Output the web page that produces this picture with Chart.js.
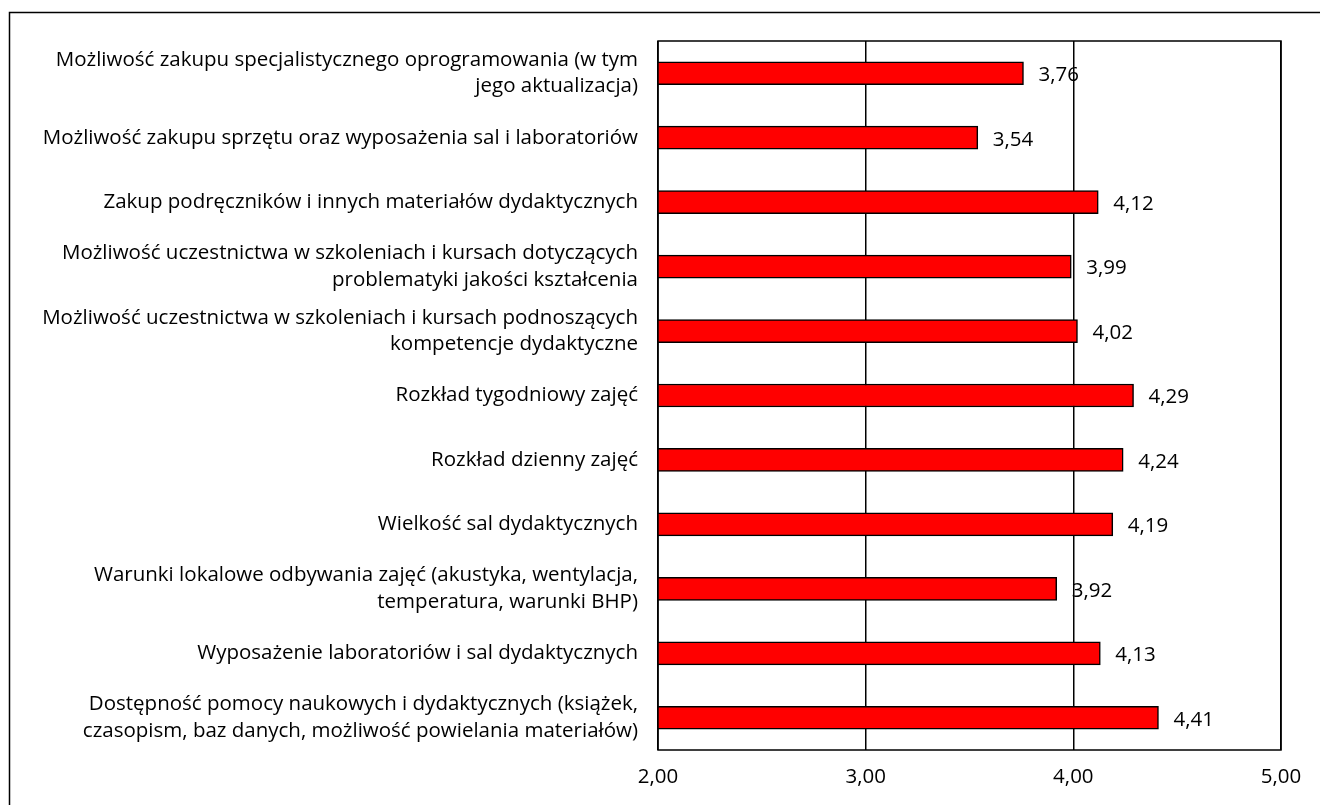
<!DOCTYPE html>
<html>
<head>
<meta charset="utf-8">
<script src="https://cdn.jsdelivr.net/npm/chart.js@4.4.1/dist/chart.umd.min.js"></script>
<style>
    html, body { margin: 0; padding: 0; background: #fff; overflow: hidden; }
    #wrap { position: relative; width: 1320px; height: 805px; }
</style>
</head>
<body>
<div id="wrap"><canvas id="chart" width="1320" height="805"></canvas></div>
<script>
const categories = [
    ['Możliwość zakupu specjalistycznego oprogramowania (w tym', 'jego aktualizacja)'],
    'Możliwość zakupu sprzętu oraz wyposażenia sal i laboratoriów',
    'Zakup podręczników i innych materiałów dydaktycznych',
    ['Możliwość uczestnictwa w szkoleniach i kursach dotyczących', 'problematyki jakości kształcenia'],
    ['Możliwość uczestnictwa w szkoleniach i kursach podnoszących', 'kompetencje dydaktyczne'],
    'Rozkład tygodniowy zajęć',
    'Rozkład dzienny zajęć',
    'Wielkość sal dydaktycznych',
    ['Warunki lokalowe odbywania zajęć (akustyka, wentylacja,', 'temperatura, warunki BHP)'],
    'Wyposażenie laboratoriów i sal dydaktycznych',
    ['Dostępność pomocy naukowych i dydaktycznych (książek,', 'czasopism, baz danych, możliwość powielania materiałów)']
];
const values = [3.76, 3.54, 4.12, 3.99, 4.02, 4.29, 4.24, 4.19, 3.92, 4.13, 4.41];
const axisMin = 2;
const axisMax = 5;
const tickStep = 1;

const FONT = '"Open Sans", Lato, sans-serif';
const SIZE = 20.5;
const fmt = v => v.toFixed(2).replace('.', ',');

const frame = {
    id: 'frame',
    beforeDraw(chart) {
        const ctx = chart.ctx;
        ctx.save();
        ctx.fillStyle = '#fff';
        ctx.fillRect(0, 0, chart.width, chart.height);
        ctx.strokeStyle = '#000';
        ctx.lineWidth = 1.5;
        ctx.strokeRect(9.5, 12.5, 1400, 900);
        ctx.restore();
    },
    afterDraw(chart) {
        const { ctx, chartArea: a } = chart;
        ctx.save();
        ctx.strokeStyle = '#000';
        ctx.lineWidth = 1.5;
        ctx.strokeRect(a.left, a.top, a.right - a.left, a.bottom - a.top);
        ctx.restore();
    }
};

const valueLabels = {
    id: 'valueLabels',
    afterDatasetsDraw(chart) {
        const ctx = chart.ctx;
        const meta = chart.getDatasetMeta(0);
        ctx.save();
        ctx.font = SIZE + 'px ' + FONT;
        ctx.fillStyle = '#000';
        ctx.textAlign = 'left';
        ctx.textBaseline = 'middle';
        meta.data.forEach((bar, i) => {
            ctx.fillText(fmt(values[i]), bar.x + 15, bar.y + 2);
        });
        ctx.restore();
    }
};

new Chart(document.getElementById('chart').getContext('2d'), {
    type: 'bar',
    data: {
        labels: categories,
        datasets: [{
            data: values,
            backgroundColor: '#ff0000',
            borderColor: '#000',
            borderWidth: 1.5,
            borderSkipped: false,
            barThickness: 23
        }]
    },
    options: {
        indexAxis: 'y',
        responsive: false,
        animation: false,
        events: [],
        layout: { padding: { top: 41, right: 39, left: 0, bottom: 0 } },
        plugins: { legend: { display: false }, tooltip: { enabled: false } },
        scales: {
            x: {
                min: axisMin,
                max: axisMax,
                afterFit: s => { s.height = 55; s.paddingLeft = 0; s.paddingRight = 0; },
                ticks: {
                    stepSize: tickStep,
                    padding: 15,
                    color: '#000',
                    font: { family: FONT, size: SIZE },
                    callback: v => fmt(v)
                },
                grid: { color: '#000', lineWidth: 1.5, drawTicks: false },
                border: { display: false }
            },
            y: {
                afterFit: s => { s.width = 658; s.paddingTop = 0; s.paddingBottom = 0; },
                ticks: {
                    padding: 20,
                    color: '#000',
                    font: { family: FONT, size: SIZE, lineHeight: 1.3 }
                },
                grid: { display: false, drawTicks: false },
                border: { display: false }
            }
        }
    },
    plugins: [frame, valueLabels]
});
</script>
</body>
</html>
